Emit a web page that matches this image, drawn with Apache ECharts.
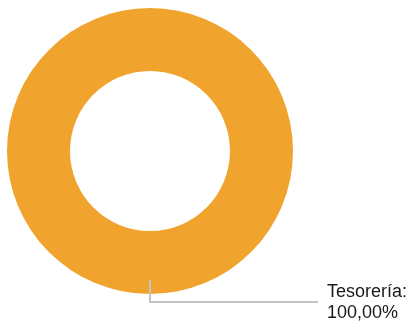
<!DOCTYPE html>
<html>
<head>
    <meta charset="UTF-8">
    <script type="text/javascript" src="https://cdn.jsdelivr.net/npm/echarts@6/dist/echarts.min.js"></script>
    <style>
        html, body { margin: 0; padding: 0; background: #fff; }
        #chart { width: 412px; height: 322px; }
    </style>
</head>
<body>
    <div id="chart"></div>
    <script type="text/javascript">
    // datos del gráfico
    var categorias = ['Tesorería'];
    var valores = [100];
    var colores = ['#f0a42e'];

    var chart = echarts.init(document.getElementById('chart'));
    var datos = [];
    for (var i = 0; i < categorias.length; i++) {
        datos.push({ name: categorias[i], value: valores[i] });
    }

    var centro = [150, 151];
    var radio = [80, 143];

    var option = {
        animation: false,
        color: colores,
        series: [{
            // el anillo
            type: 'pie',
            z: 2,
            center: centro,
            radius: radio,
            startAngle: 90,
            data: datos,
            label: { show: false },
            labelLine: { show: false }
        }, {
            // misma serie, transparente, solo para la etiqueta y su línea (encima del anillo)
            type: 'pie',
            z: 3,
            silent: true,
            center: centro,
            radius: radio,
            startAngle: 90,
            data: datos,
            itemStyle: { color: 'rgba(0,0,0,0)' },
            label: {
                show: true,
                position: 'outside',
                overflow: 'none',
                fontFamily: 'Liberation Sans, Arial, sans-serif',
                fontSize: 18,
                lineHeight: 21,
                color: '#1a1a1a',
                formatter: function (p) {
                    return p.name + ':\n' + p.percent.toFixed(2).replace('.', ',') + '%';
                }
            },
            labelLine: {
                show: true,
                length: 8,
                length2: 20,
                lineStyle: { color: '#c4c4c4', width: 2 }
            },
            labelLayout: function (params) {
                var pts = params.labelLinePoints;
                if (!pts) return {};
                var cx = centro[0];
                var yTop = pts[0][1] - 14;
                var yEnd = pts[0][1] + 8;
                return {
                    x: 327,
                    y: 282,
                    align: 'left',
                    verticalAlign: 'top',
                    labelLinePoints: [[cx, yTop], [cx, yEnd], [318, yEnd]]
                };
            }
        }]
    };
    chart.setOption(option);
    </script>
</body>
</html>
